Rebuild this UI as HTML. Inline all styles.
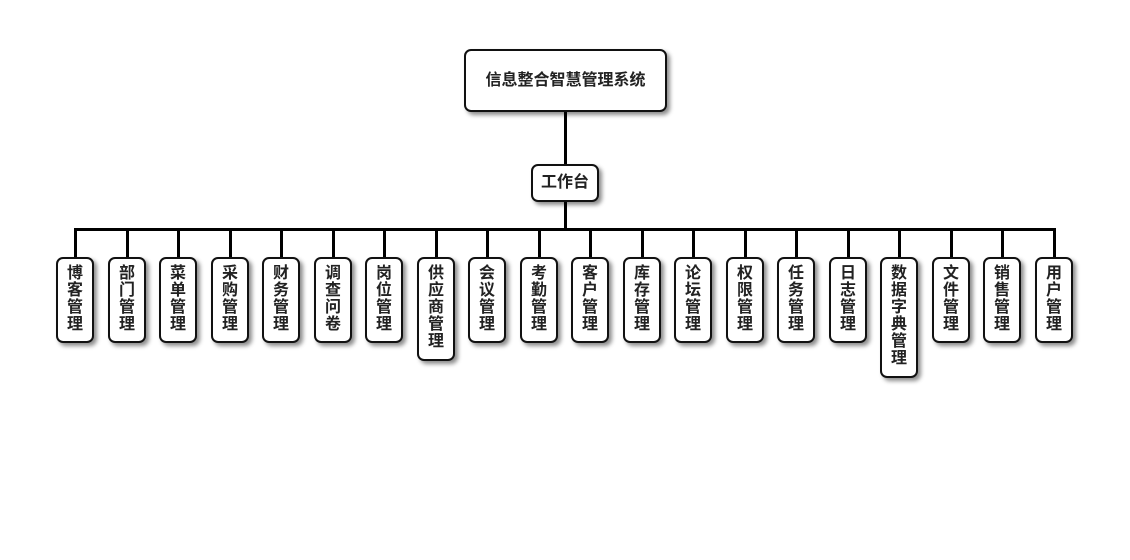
<!DOCTYPE html>
<html><head><meta charset="utf-8"><style>
body{margin:0;width:1130px;height:560px;background:#fff;position:relative;overflow:hidden;font-family:"Liberation Sans","Noto Sans CJK SC",sans-serif;}
.b{position:absolute;box-sizing:border-box;border:2px solid #111;border-radius:7px;background:#fff;box-shadow:3px 3px 4px rgba(0,0,0,.45);font-weight:bold;color:#222;text-align:center;}
.c{width:38px;top:257px;font-size:16px;line-height:17px;padding-top:6px;}
.l{position:absolute;background:#000;}
</style></head><body>
<div class="l" style="left:564px;top:110px;width:3px;height:56px"></div>
<div class="l" style="left:564px;top:200px;width:3px;height:30px"></div>
<div class="l" style="left:74px;top:228px;width:982px;height:3px"></div>
<div class="b" style="left:464px;top:49px;width:203px;height:63px;font-size:16px;line-height:59px">信息整合智慧管理系统</div>
<div class="b" style="left:531px;top:164px;width:68px;height:38px;font-size:16px;line-height:34px">工作台</div>
<div id="k"></div>
<script>
var n=["博客管理","部门管理","菜单管理","采购管理","财务管理","调查问卷","岗位管理","供应商管理","会议管理","考勤管理","客户管理","库存管理","论坛管理","权限管理","任务管理","日志管理","数据字典管理","文件管理","销售管理","用户管理"];
var h="";
for(var i=0;i<n.length;i++){var cx=Math.round(75+i*51.5);var ht=86+(n[i].length-4)*17.5;
h+='<div class="l" style="left:'+(cx-1)+'px;top:229px;width:3px;height:30px"></div>';
h+='<div class="b c" style="left:'+(cx-19)+'px;height:'+ht+'px">'+n[i].split("").join("<br>")+'</div>';}
document.getElementById("k").innerHTML=h;
</script>
</body></html>
